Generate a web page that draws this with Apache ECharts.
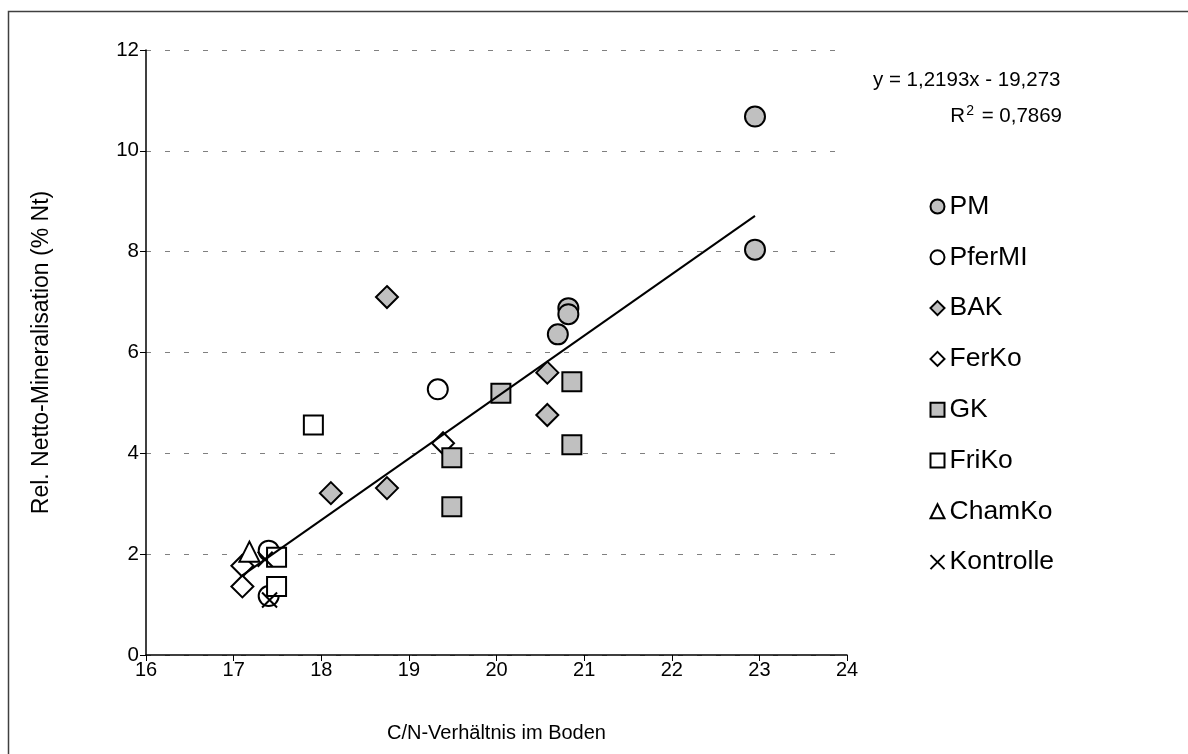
<!DOCTYPE html>
<html>
<head>
<meta charset="utf-8">
<script src="https://cdn.jsdelivr.net/npm/echarts@6/dist/echarts.min.js"></script>
<style>
html,body{margin:0;padding:0;background:#fff;}
#c{width:1188px;height:754px;}
</style>
</head>
<body>
<div id="c"></div>
<script>
// ---- data ----
const xTitle = 'C/N-Verhältnis im Boden';
const yTitle = 'Rel. Netto-Mineralisation (% Nt)';
const seriesNames = ['PM','PferMI','BAK','FerKo','GK','FriKo','ChamKo','Kontrolle'];
const PM = [[22.95,10.68],[22.95,8.04],[20.82,6.88],[20.82,6.76],[20.70,6.36]];
const PferMI = [[19.33,5.27],[17.40,2.07],[17.40,1.17]];
const BAK = [[18.75,7.10],[20.58,5.60],[20.58,4.76],[18.75,3.31],[18.11,3.21]];
const FerKo = [[19.39,4.20],[17.10,1.77],[17.10,1.36]];
const GK = [[20.05,5.19],[20.86,5.42],[20.86,4.17],[19.49,3.91],[19.49,2.94]];
const FriKo = [[17.91,4.56],[17.49,1.94],[17.49,1.36]];
const ChamKo = [[17.18,2.05]];
const Kontrolle = [[17.36,1.90],[17.41,1.09]];
const trendLine = [[17.10,1.58],[22.95,8.71]];
const equationText = 'y = 1,2193x - 19,273';
const r2Text = '0,7869';

const FONT = '"Liberation Sans", Arial, sans-serif';
const GRAY = '#c0c0c0';
const crossPath = 'path://M0,0L10,10M10,0L0,10';

function sc(name, data, symbol, fill, size){
  return {
    name: name, type: 'scatter', data: data,
    symbol: symbol, symbolSize: size,
    itemStyle: {color: fill, borderColor: '#000', borderWidth: 2, opacity: 1},
    emphasis: {disabled: true}
  };
}

const chart = echarts.init(document.getElementById('c'), null, {renderer: 'canvas'});
chart.setOption({
  animation: false,
  backgroundColor: '#fff',
  textStyle: {fontFamily: FONT},
  grid: {left: 146, right: 341, top: 50, bottom: 99, containLabel: false},
  xAxis: {
    type: 'value', min: 16, max: 24, interval: 1,
    name: xTitle, nameLocation: 'middle', nameGap: 68,
    nameTextStyle: {fontFamily: FONT, fontSize: 20, color: '#000'},
    axisLine: {show: true, onZero: false, lineStyle: {color: '#000', width: 1.5}},
    axisTick: {show: true, inside: false, length: 6, lineStyle: {color: '#000'}},
    axisLabel: {fontFamily: FONT, fontSize: 20, color: '#000', margin: 5},
    splitLine: {show: false}
  },
  yAxis: {
    type: 'value', min: 0, max: 12, interval: 2,
    name: yTitle, nameLocation: 'middle', nameGap: 93, nameRotate: 90,
    nameTextStyle: {fontFamily: FONT, fontSize: 23, color: '#000'},
    axisLine: {show: true, lineStyle: {color: '#000', width: 1.5}},
    axisTick: {show: true, inside: false, length: 6, lineStyle: {color: '#000'}},
    axisLabel: {fontFamily: FONT, fontSize: 20.5, color: '#000', margin: 7},
    splitLine: {show: true, lineStyle: {color: '#808080', width: 1, type: [5, 14]}}
  },
  legend: {
    orient: 'vertical', left: 928, top: 193, padding: 0,
    data: seriesNames,
    itemWidth: 14, itemHeight: 14, itemGap: 23.8,
    textStyle: {fontFamily: FONT, fontSize: 26.5, color: '#000'},
    selectedMode: false
  },
  graphic: [
    {type: 'rect', shape: {x: 8.5, y: 11.5, width: 1200, height: 800},
     style: {fill: 'none', stroke: '#404040', lineWidth: 1.5}, silent: true},
    {type: 'text', left: 873, top: 70,
     style: {text: equationText, font: '20.5px ' + FONT, fill: '#000'}},
    {type: 'text', right: 126, top: 104,
     style: {text: 'R{sup|2} = ' + r2Text, font: '20.5px ' + FONT, fill: '#000',
       rich: {sup: {fontSize: 14, verticalAlign: 'top', padding: [0,2,10,1], fontFamily: FONT}}}}
  ],
  series: [
    sc('PM', PM, 'circle', GRAY, 20),
    sc('PferMI', PferMI, 'circle', '#fff', 20),
    sc('BAK', BAK, 'diamond', GRAY, 22),
    sc('FerKo', FerKo, 'diamond', '#fff', 22),
    sc('GK', GK, 'rect', GRAY, 19),
    sc('FriKo', FriKo, 'rect', '#fff', 19),
    sc('ChamKo', ChamKo, 'triangle', '#fff', 20),
    sc('Kontrolle', Kontrolle, crossPath, 'none', 15),
    {
      name: 'trend', type: 'line', data: trendLine, symbol: 'none',
      lineStyle: {color: '#000', width: 2}, z: 3, silent: true
    }
  ]
});
</script>
</body>
</html>
